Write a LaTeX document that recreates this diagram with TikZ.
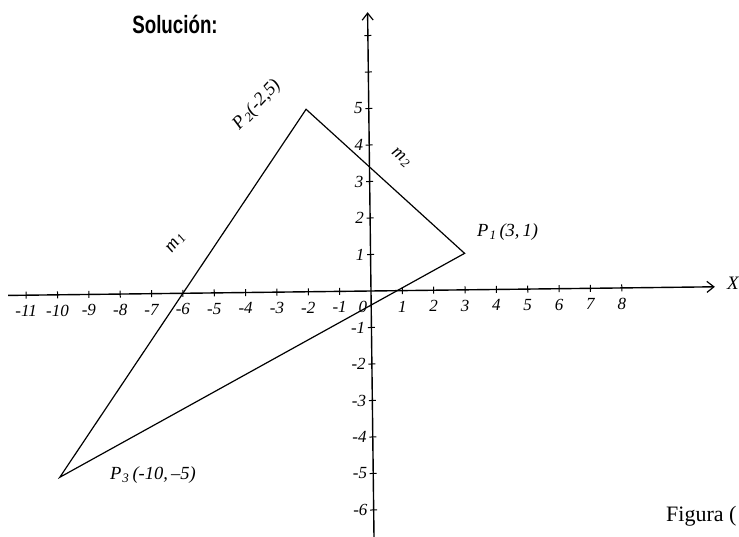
\documentclass[tikz,border=0pt]{standalone}
\usepackage{graphicx}
\usepackage{fontspec}
\setmainfont{Liberation Serif}
\newfontfamily\solfont{Liberation Sans}
\usetikzlibrary{arrows.meta}
\begin{document}
\begin{tikzpicture}[
  axisline/.style={line width=1.4pt, -{Straight Barb[length=7pt,width=11pt,line width=1.2pt]}},
  tri/.style={line width=1.2pt, line join=miter},
  tickmark/.style={line width=1pt},
  ticklbl/.style={font=\fontsize{17}{17}\selectfont\itshape, inner sep=0pt},
  ptlbl/.style={font=\fontsize{18.5}{18.5}\selectfont\itshape, inner sep=0pt},
]
\useasboundingbox (-371pt,-246pt) rectangle (368pt,291pt);
\begin{scope}[x=31.35pt,y=36.5pt,rotate=0.7]
  \coordinate (O) at (0,0);
  \coordinate (xl) at (-11.58,0);
  \coordinate (xr) at (10.97,0);
  \coordinate (yt) at (0,7.64);
  \coordinate (yb) at (0,-6.9);
  \coordinate (P1) at (3,1);
  \coordinate (P2) at (-2,5);
  \coordinate (P3) at (-10,-5);
  % axes
  \draw[axisline] (xl) -- (xr);
  \draw[axisline] (yb) -- (yt);
  % x ticks and labels
  \foreach \i in {-11,...,-1,1,2,...,8}{
    \draw[tickmark] (\i,0) ++(0,-3.5pt) -- ++(0,7pt);
    \node[ticklbl, anchor=north, yshift=-10pt] (xt\i) at (\i,0) {\i};
  }
  % y ticks
  \foreach \j in {-6,...,-1,1,2,...,7}{
    \draw[tickmark] (0,\j) ++(-3.5pt,0) -- ++(7pt,0);
  }
  \foreach \j in {-6,...,-1,1,2,...,5}{
    \node[ticklbl, anchor=east, xshift=-6pt] (yt\j) at (0,\j) {\j};
  }
  \node[ticklbl, xshift=-8pt, yshift=-16pt] (zero) at (O) {0};
  % triangle
  \draw[tri] (P1) -- (P2) -- (P3) -- cycle;
\end{scope}
% labels
\node[ptlbl, rotate=47] (p2lbl) at (-114pt,186pt) {P\kern1.5pt\textsubscript{2}(-2,5)};
\node[ptlbl, rotate=52] (m1lbl) at (-195pt,48pt) {m\kern1pt\textsubscript{1}};
\node[ptlbl, rotate=-40] (m2lbl) at (30pt,133pt) {m\kern1pt\textsubscript{2}};
\node[ptlbl, anchor=west] (p1lbl) at (106pt,59pt) {P\kern1pt\textsubscript{1}\,(3,\,1)};
\node[ptlbl, anchor=west] (p3lbl) at (-261pt,-184pt) {P\kern1pt\textsubscript{3}\,(-10,\,--5)};
\node[font=\fontsize{19}{19}\selectfont\itshape, inner sep=0pt] (xlbl) at (362pt,8pt) {X};
\node (sol) at (-196pt,267pt) {\scalebox{0.75}[1]{\solfont\bfseries\fontsize{25}{25}\selectfont Solución:}};
\node[anchor=base west, inner sep=0pt] (fig) at (295pt,-231pt) {\fontsize{22}{22}\selectfont Figura (};
\end{tikzpicture}
\end{document}
